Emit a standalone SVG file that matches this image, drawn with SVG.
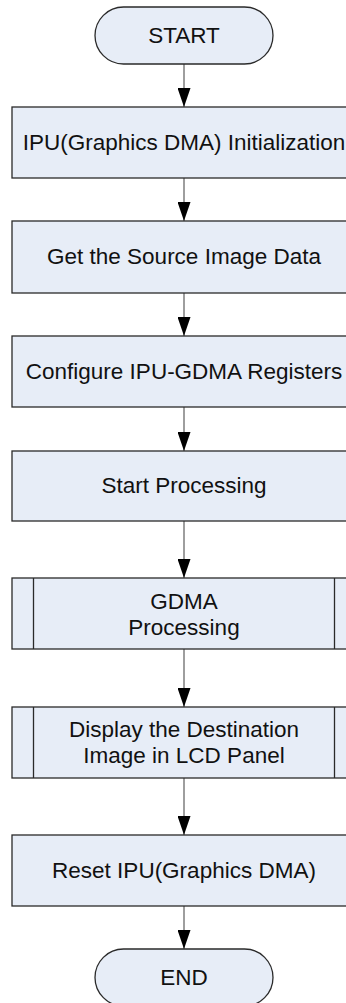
<svg xmlns="http://www.w3.org/2000/svg" width="346" height="1003" viewBox="0 0 346 1003">
<style>
.box{fill:#E7EDF7;stroke:#2a2a2a;stroke-width:1.3}
.sub{fill:none;stroke:#2a2a2a;stroke-width:1.3}
.lbl{font-family:"Liberation Sans",Arial,sans-serif;font-size:22.5px;fill:#111;text-anchor:middle}
.conn{stroke:#6a6a6a;stroke-width:1.3;fill:none}
</style>
<defs>
<marker id="ah" markerWidth="19" markerHeight="13" refX="19" refY="6.5" orient="auto" markerUnits="userSpaceOnUse" viewBox="0 0 19 13">
<path d="M0,0 L19,6.5 L0,13 Z" fill="#000"/>
</marker>
</defs>
<rect width="346" height="1003" fill="#fff"/>
<g id="connectors">
<line class="conn" x1="184" y1="64" x2="184" y2="107" marker-end="url(#ah)"/>
<line class="conn" x1="184" y1="178" x2="184" y2="221" marker-end="url(#ah)"/>
<line class="conn" x1="184" y1="293" x2="184" y2="336" marker-end="url(#ah)"/>
<line class="conn" x1="184" y1="407" x2="184" y2="451" marker-end="url(#ah)"/>
<line class="conn" x1="184" y1="521" x2="184" y2="578" marker-end="url(#ah)"/>
<line class="conn" x1="184" y1="649" x2="184" y2="707" marker-end="url(#ah)"/>
<line class="conn" x1="184" y1="778" x2="184" y2="835" marker-end="url(#ah)"/>
<line class="conn" x1="184" y1="906" x2="184" y2="949" marker-end="url(#ah)"/>
</g>
<g id="start">
<rect class="box" x="95" y="7" width="178" height="57" rx="28.5"/>
<text class="lbl" x="184" y="43">START</text>
</g>
<g id="init">
<rect class="box" x="12" y="107" width="344" height="71"/>
<text class="lbl" x="184" y="150">IPU(Graphics DMA) Initialization</text>
</g>
<g id="getsrc">
<rect class="box" x="12" y="221" width="344" height="72"/>
<text class="lbl" x="184" y="264">Get the Source Image Data</text>
</g>
<g id="config">
<rect class="box" x="12" y="336" width="344" height="71"/>
<text class="lbl" x="184" y="379">Configure IPU-GDMA Registers</text>
</g>
<g id="startproc">
<rect class="box" x="12" y="451" width="344" height="70"/>
<text class="lbl" x="184" y="493">Start Processing</text>
</g>
<g id="gdma">
<rect class="box" x="12" y="578" width="344" height="71"/>
<line class="sub" x1="33.5" y1="578" x2="33.5" y2="649"/>
<line class="sub" x1="334.5" y1="578" x2="334.5" y2="649"/>
<text class="lbl" x="184" y="609">GDMA</text>
<text class="lbl" x="184" y="635">Processing</text>
</g>
<g id="display">
<rect class="box" x="12" y="707" width="344" height="71"/>
<line class="sub" x1="33.5" y1="707" x2="33.5" y2="778"/>
<line class="sub" x1="334.5" y1="707" x2="334.5" y2="778"/>
<text class="lbl" x="184" y="737">Display the Destination</text>
<text class="lbl" x="184" y="763">Image in LCD Panel</text>
</g>
<g id="reset">
<rect class="box" x="12" y="835" width="344" height="71"/>
<text class="lbl" x="184" y="878">Reset IPU(Graphics DMA)</text>
</g>
<g id="end">
<rect class="box" x="95" y="949" width="178" height="57" rx="28.5"/>
<text class="lbl" x="184" y="985">END</text>
</g>
</svg>
